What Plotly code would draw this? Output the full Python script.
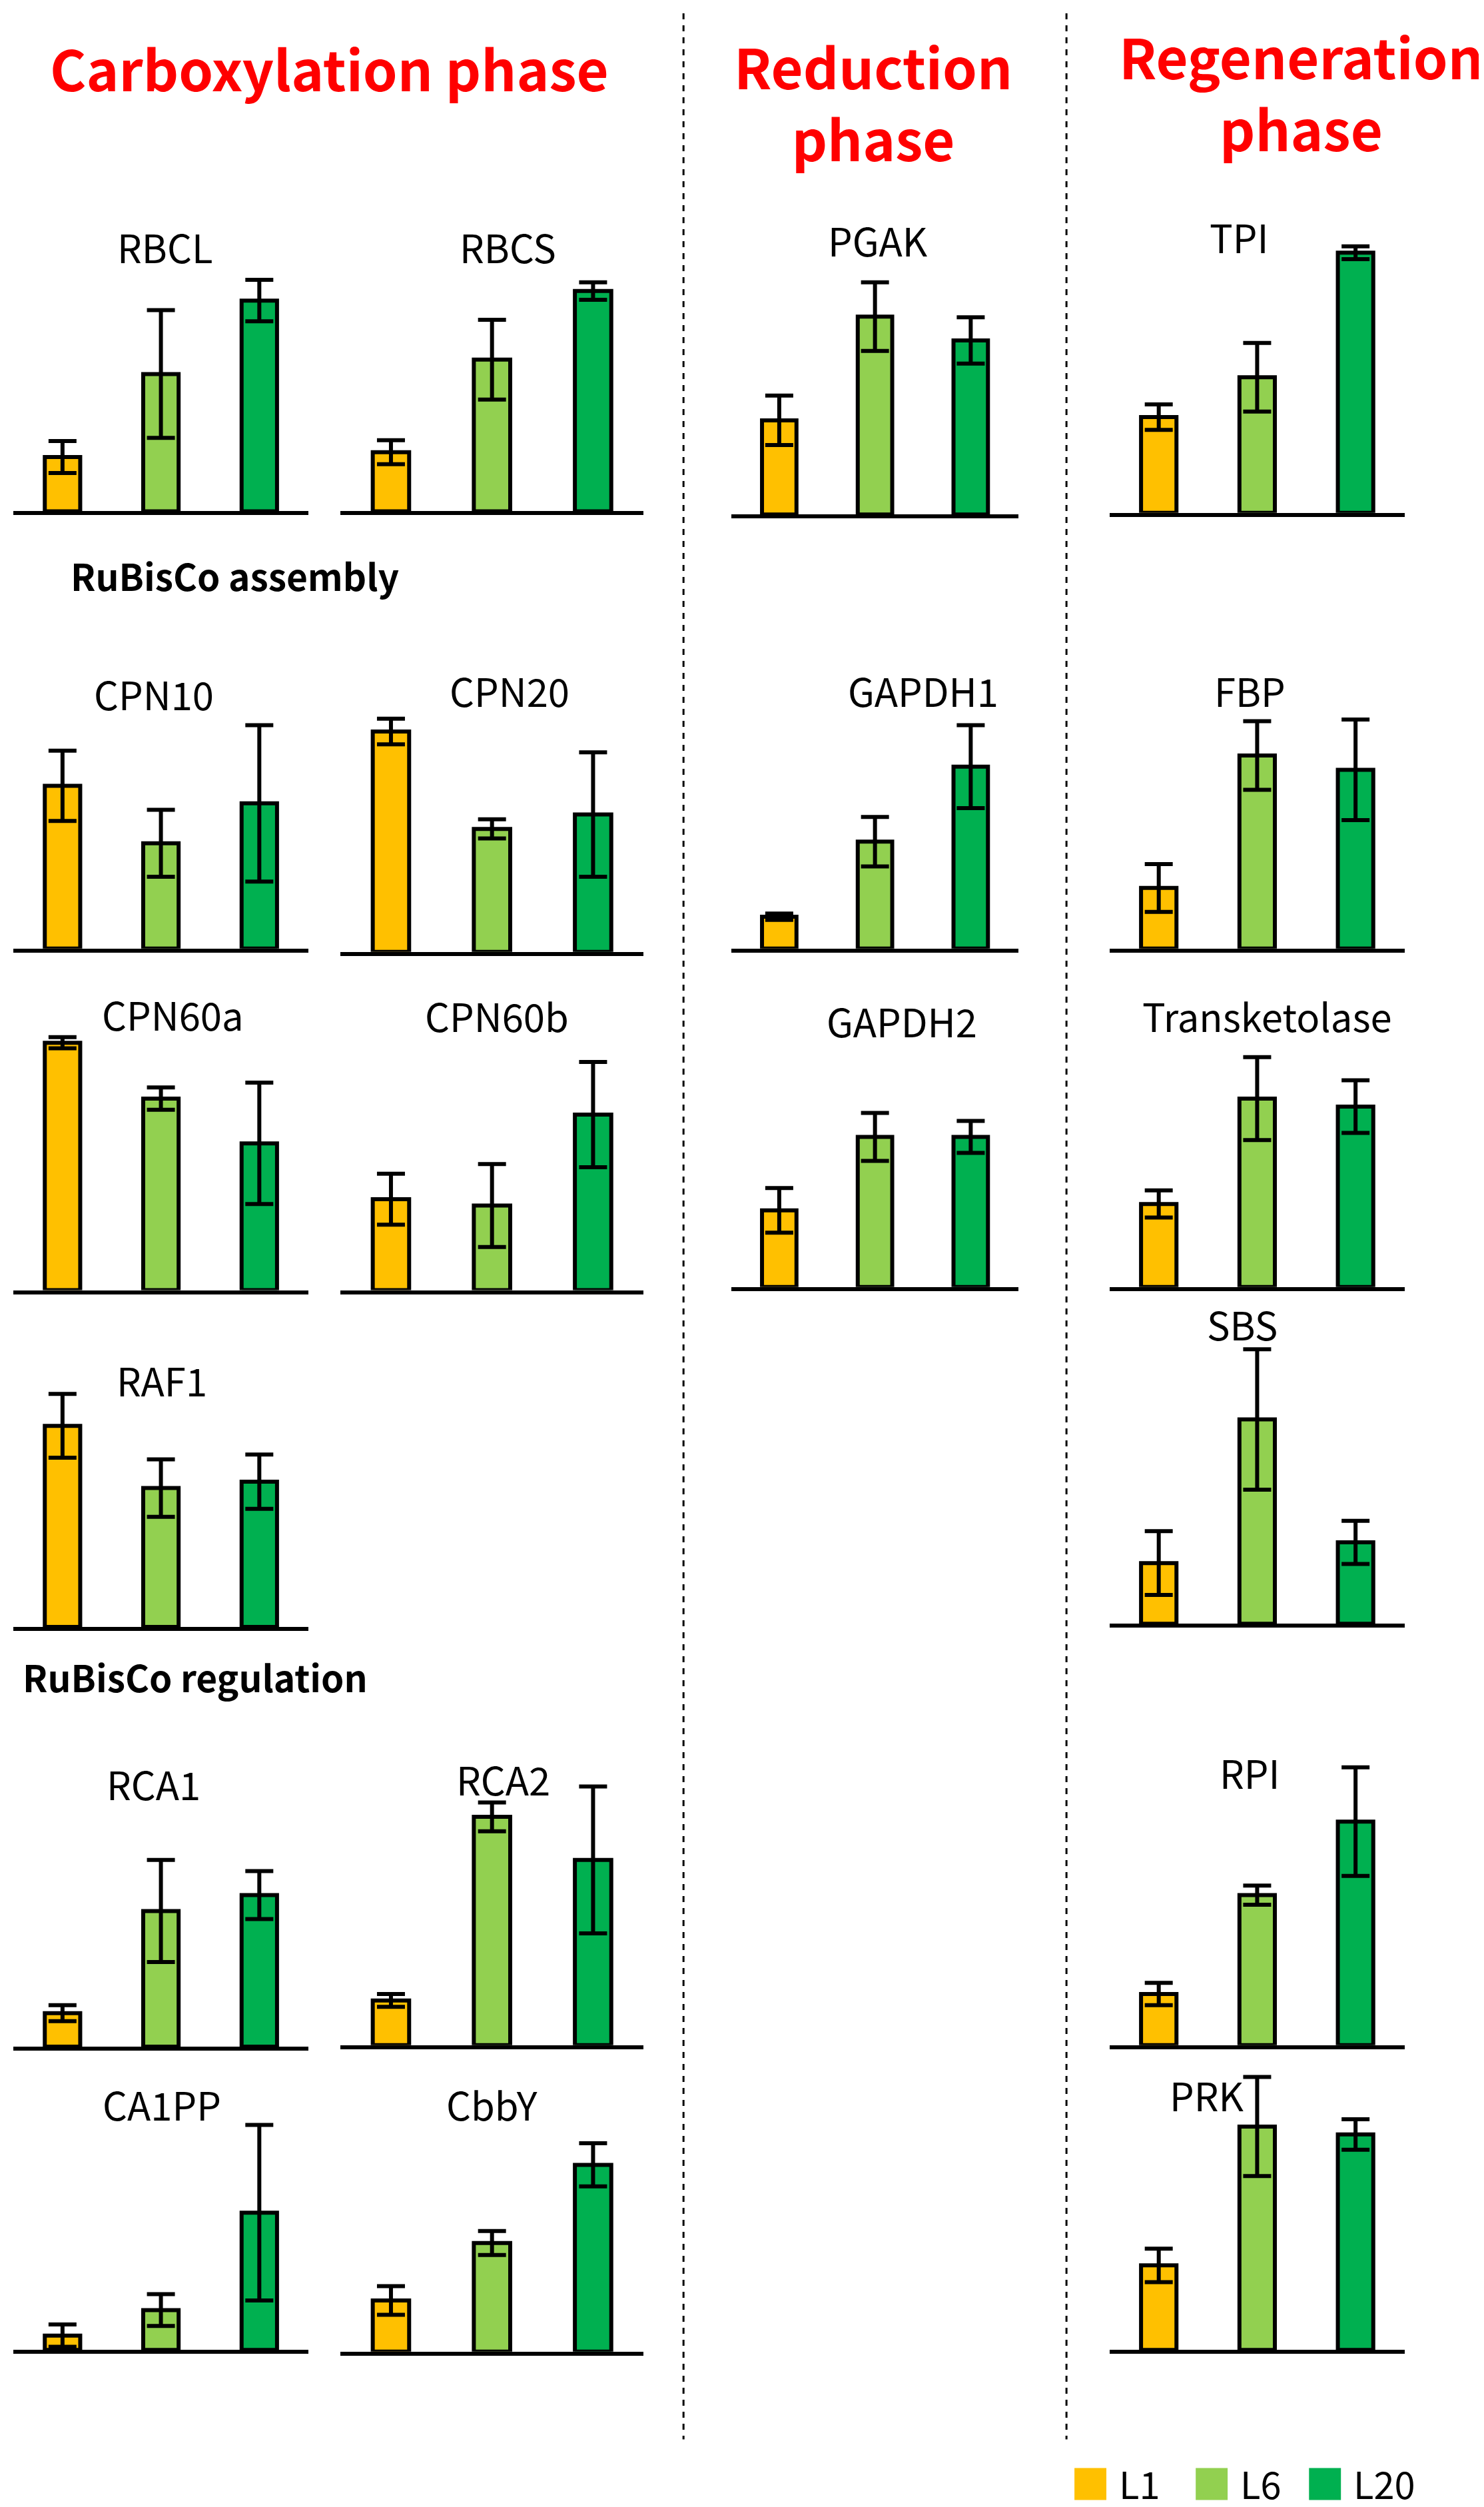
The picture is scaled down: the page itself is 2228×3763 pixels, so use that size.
import plotly.graph_objects as go

# bar heights and error half-widths (arbitrary units)
genes = ["RBCL", "RBCS", "CPN10", "CPN20", "CPN60a", "CPN60b", "RAF1",
         "RCA1", "RCA2", "CA1PP", "CbbY",
         "PGAK", "GAPDH1", "GAPDH2",
         "TPI", "FBP", "Transketolase", "SBS", "RPI", "PRK"]
l1 = [34, 37, 102, 138, 155, 57, 126, 21, 28, 9, 32,
      59, 20, 48,
      60, 38, 52, 38, 32, 53]
l6 = [86, 95, 66, 77, 120, 53, 87, 85, 143, 25, 68,
      124, 67, 94,
      85, 121, 118, 128, 94, 140]
l20 = [132, 138, 91, 86, 92, 110, 91, 95, 116, 86, 117,
       109, 114, 94,
       163, 112, 113, 51, 140, 135]
err_l1 = [10, 7.5, 22, 8, 3.5, 16, 20, 5, 4, 7, 9,
          15.5, 2, 14,
          8, 15, 8.5, 20, 7, 10.5]
err_l6 = [40, 25, 21, 6, 7, 26, 18, 32, 9, 10, 7.5,
          21.5, 15.5, 15,
          21.5, 21.5, 26, 44, 6, 31]
err_l20 = [13, 5.5, 49, 39, 38, 33, 17, 15, 46, 55, 13.5,
           14.5, 26, 10,
           4, 31.5, 16.5, 13.5, 34, 9.5]

groups = ["L1", "L6", "L20"]
colors = ["#FFC000", "#92D050", "#00B050"]

# panel placement, in the 930-px-wide preview coordinates
# (x left, x right, baseline y, title centre x, title y)
panel_pos = {
    "RBCL": (5, 190, 317, 100, 151),
    "RBCS": (210, 400, 317, 315, 151),
    "CPN10": (5, 190, 591, 93, 431),
    "CPN20": (210, 400, 593, 316, 429),
    "CPN60a": (5, 190, 805, 105, 632),
    "CPN60b": (210, 400, 805, 308, 633),
    "RAF1": (5, 190, 1016, 98, 861),
    "RCA1": (5, 190, 1279, 93, 1114),
    "RCA2": (210, 400, 1278, 312, 1111),
    "CA1PP": (5, 190, 1469, 98, 1315),
    "CbbY": (210, 400, 1470, 305, 1315),
    "PGAK": (455, 635, 319, 547, 147),
    "GAPDH1": (455, 635, 591, 575, 429),
    "GAPDH2": (455, 635, 803, 562, 636),
    "TPI": (692, 877, 318, 773, 145),
    "FBP": (692, 877, 591, 780, 429),
    "Transketolase": (692, 877, 803, 791, 633),
    "SBS": (692, 877, 1014, 775, 826),
    "RPI": (692, 877, 1278, 780, 1107),
    "PRK": (692, 877, 1469, 753, 1309),
}

W, H = 2228, 3763
S = W / 930.0
PANEL_H = 180


def fx(d):
    return d * S / W


def fy(d):
    return 1 - d * S / H


fig = go.Figure()
annotations = []
shapes = []

for i, g in enumerate(genes):
    n = "" if i == 0 else str(i + 1)
    x0, x1, base, tx, ty = panel_pos[g]
    vals = [l1[i], l6[i], l20[i]]
    errs = [err_l1[i], err_l6[i], err_l20[i]]
    fig.add_trace(go.Bar(
        x=groups, y=vals,
        xaxis="x" + n, yaxis="y" + n,
        width=0.36,
        marker=dict(color=colors, line=dict(color="black", width=6)),
        error_y=dict(type="data", array=errs, color="black",
                     thickness=6, width=21),
        showlegend=False,
    ))
    fig.layout["xaxis" + n] = dict(
        domain=[fx(x0), fx(x1)], anchor="y" + n,
        range=[-0.5, 2.5], showline=True, linecolor="black", linewidth=6,
        showticklabels=False, ticks="", showgrid=False, zeroline=False,
        fixedrange=True,
    )
    fig.layout["yaxis" + n] = dict(
        domain=[fy(base), fy(base - PANEL_H)], anchor="x" + n,
        range=[0, PANEL_H], visible=False, fixedrange=True,
    )
    annotations.append(dict(
        text=g, x=fx(tx), y=fy(ty), xref="paper", yref="paper",
        xanchor="center", yanchor="middle", showarrow=False,
        font=dict(family="Noto Sans CJK SC", size=58, color="black"),
    ))

# phase headers (two-line ones as a single wrapped text)
header_font = dict(family="Noto Sans CJK SC", size=83, color="#FF0000",
                   weight="bold")
for txt, hx, hy in [("Carboxylation phase", 203, 39),
                    ("Reduction<br>phase", 544, 60),
                    ("Regeneration<br>phase", 812, 54)]:
    annotations.append(dict(
        text=txt, x=fx(hx), y=fy(hy), xref="paper", yref="paper",
        xanchor="center", yanchor="middle", align="center",
        showarrow=False, font=header_font,
    ))

# sub headings
for txt, hx, hy in [("RuBisCo assembly", 40, 357),
                    ("RuBisCo regulation", 10, 1047)]:
    annotations.append(dict(
        text=txt, x=fx(hx), y=fy(hy), xref="paper", yref="paper",
        xanchor="left", yanchor="middle", showarrow=False,
        font=dict(family="Noto Sans CJK SC", size=55, color="black",
                  weight="bold"),
    ))

# dashed separators
for dx in [425, 665]:
    shapes.append(dict(
        type="line", xref="paper", yref="paper",
        x0=fx(dx), x1=fx(dx), y0=fy(5), y1=fy(1525),
        line=dict(color="black", width=3, dash="dash"),
    ))

# legend drawn by hand so the swatches can be large
legend_items = [("L1", 670), ("L6", 746), ("L20", 817)]
for (lab, lx), c in zip(legend_items, colors):
    shapes.append(dict(
        type="rect", xref="paper", yref="paper",
        x0=fx(lx), x1=fx(lx + 20), y0=fy(1563), y1=fy(1543),
        fillcolor=c, line=dict(width=0),
    ))
    annotations.append(dict(
        text=lab, x=fx(lx + 27), y=fy(1552), xref="paper", yref="paper",
        xanchor="left", yanchor="middle", showarrow=False,
        font=dict(family="Noto Sans CJK SC", size=56, color="black"),
    ))

fig.update_layout(
    width=W, height=H,
    margin=dict(l=0, r=0, t=0, b=0),
    paper_bgcolor="white", plot_bgcolor="white",
    annotations=annotations, shapes=shapes,
)

fig.write_html("out.html")
